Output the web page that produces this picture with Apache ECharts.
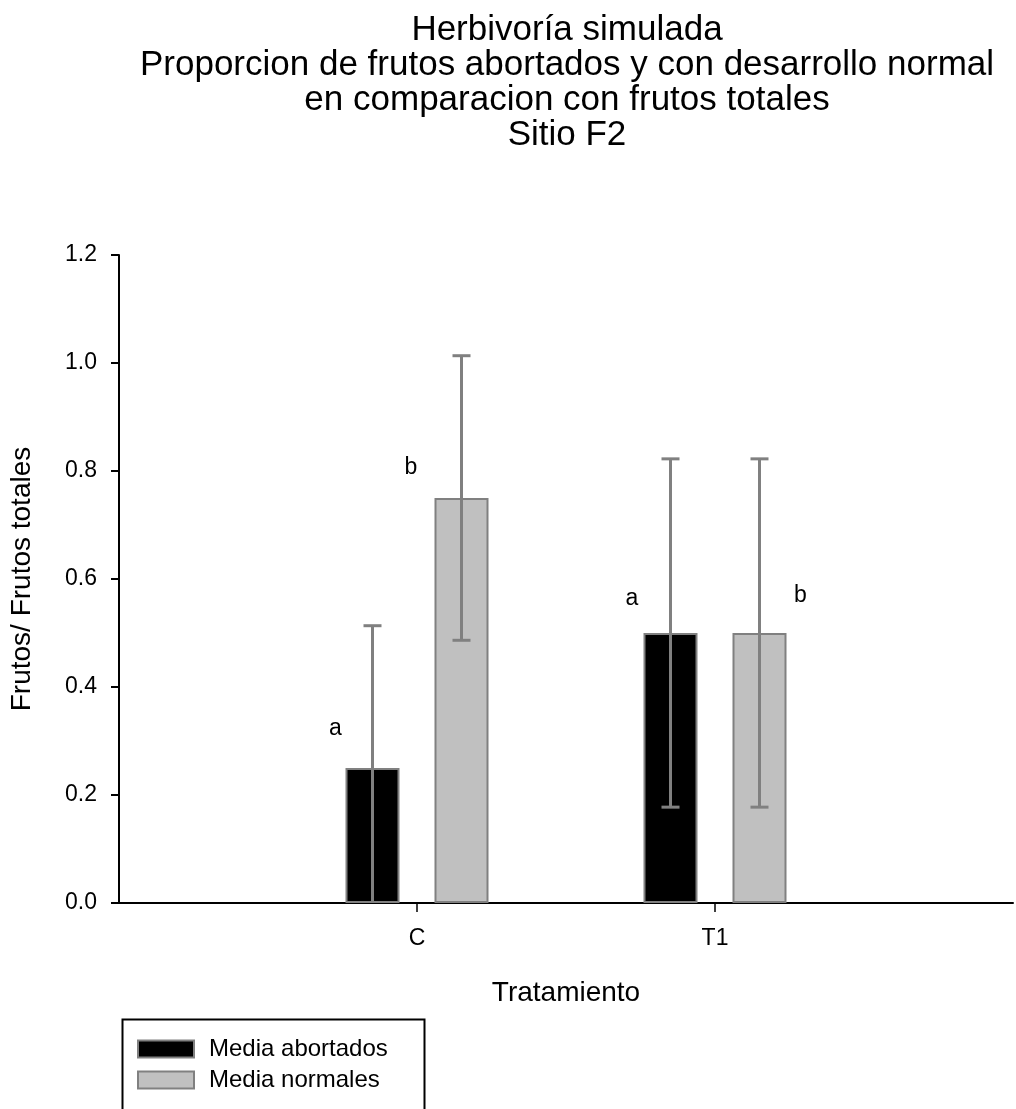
<!DOCTYPE html>
<html><head><meta charset="utf-8">
<script src="https://cdn.jsdelivr.net/npm/echarts@6/dist/echarts.min.js"></script>
<style>html,body{margin:0;padding:0;background:#fff}#c{width:1016px;height:1109px}</style>
</head><body><div id="c"></div>
<script>
const titleLines = ['Herbivoría simulada', 'Proporcion de frutos abortados y con desarrollo normal', 'en comparacion con frutos totales', 'Sitio F2'];
const categories = ['C', 'T1'];
const seriesNames = ['Media abortados', 'Media normales'];
const meanAbortados = [0.25, 0.50];
const errAbortados = [0.2635, 0.3225];
const meanNormales = [0.75, 0.50];
const errNormales = [0.2635, 0.3225];
const lettersAbortados = ['a', 'a'];
const letterYAbortados = [0.322, 0.563];
const lettersNormales = ['b', 'b'];
const letterYNormales = [0.807, 0.570];
const yTickLabels = ['0.0', '0.2', '0.4', '0.6', '0.8', '1.0', '1.2'];
const xTitle = 'Tratamiento';
const yTitle = 'Frutos/ Frutos totales';

const FONT = 'Arial, "Liberation Sans", sans-serif';
const BAR_W = 54, GAP = 35, HALF = (BAR_W + GAP) / 2;
const letterDx = { abort: [-81.5, -83], normal: [-6, 85.5] };

const axisCats = [''].concat(categories, ['']);
const pad = arr => ['-'].concat(arr, ['-']);

function errSeries(means, errs, dx) {
  return {
    type: 'custom', clip: true, z: 5, silent: true,
    data: means.map((m, k) => [categories[k], m, errs[k]]),
    renderItem(params, api) {
      const c = api.value(0), m = api.value(1), e = api.value(2);
      const t = api.coord([c, m + e]);
      const b = api.coord([c, m - e]);
      const x = t[0] + dx;
      const st = { stroke: '#808080', lineWidth: 3 };
      return { type: 'group', children: [
        { type: 'line', shape: { x1: x, y1: t[1], x2: x, y2: b[1] }, style: st },
        { type: 'line', shape: { x1: x - 9, y1: t[1], x2: x + 9, y2: t[1] }, style: st },
        { type: 'line', shape: { x1: x - 9, y1: b[1], x2: x + 9, y2: b[1] }, style: st }
      ]};
    }
  };
}
function letterSeries(letters, ys, dxs) {
  return {
    type: 'custom', z: 6, silent: true,
    data: letters.map((l, k) => [categories[k], ys[k], k]),
    renderItem(params, api) {
      const p = api.coord([api.value(0), api.value(1)]);
      const k = api.value(2);
      return { type: 'text', x: p[0] + dxs[k], y: p[1],
        style: { text: letters[k], fill: '#000', font: '23px ' + FONT, align: 'center', verticalAlign: 'middle' } };
    }
  };
}

const chart = echarts.init(document.getElementById('c'), null, { renderer: 'canvas' });
chart.setOption({
  backgroundColor: '#fff',
  animation: false,
  title: {
    text: titleLines.join('\n'), left: 567, top: 13, padding: 0, textAlign: 'center',
    textStyle: { fontFamily: FONT, fontSize: 35, lineHeight: 35, fontWeight: 'normal', color: '#000' }
  },
  graphic: [{
    type: 'rect', left: 120, top: 1017, silent: true,
    shape: { x: 0, y: 0, width: 302, height: 200 },
    style: { fill: 'none', stroke: '#000', lineWidth: 2 }
  }],
  legend: {
    orient: 'vertical', left: 137, top: 1036, padding: 0, height: 70,
    itemWidth: 56, itemHeight: 17, itemGap: 5,
    icon: 'rect', data: seriesNames,
    textStyle: { fontFamily: FONT, fontSize: 24, lineHeight: 26, color: '#000', padding: [0, 0, 0, 10] }
  },
  grid: { left: 119, right: 1, top: 255, bottom: 206, containLabel: false },
  xAxis: {
    type: 'category', data: axisCats, boundaryGap: false,
    name: xTitle, nameLocation: 'middle', nameGap: 76,
    nameTextStyle: { fontFamily: FONT, fontSize: 28, color: '#000' },
    axisLine: { lineStyle: { color: '#000', width: 2 } },
    axisTick: { show: true, length: 9, interval: (i) => i === 1 || i === 2, lineStyle: { color: '#000', width: 1.5 } },
    axisLabel: { interval: 0, margin: 24, fontFamily: FONT, fontSize: 23, color: '#000' },
    splitLine: { show: false }
  },
  yAxis: {
    type: 'value', min: 0, max: 1.2, interval: 0.2,
    name: yTitle, nameLocation: 'middle', nameGap: 83, nameRotate: 90,
    nameTextStyle: { fontFamily: FONT, fontSize: 28, color: '#000' },
    axisLine: { show: true, lineStyle: { color: '#000', width: 2 } },
    axisTick: { show: true, inside: false, length: 8, lineStyle: { color: '#000', width: 2 } },
    axisLabel: { margin: 22, fontFamily: FONT, fontSize: 23, color: '#000',
      formatter: (v) => yTickLabels[Math.round(v / 0.2)] },
    splitLine: { show: false }
  },
  series: [
    { name: seriesNames[0], type: 'bar', data: pad(meanAbortados), barWidth: BAR_W, barGap: (GAP / BAR_W * 100) + '%',
      itemStyle: { color: '#000', borderColor: '#808080', borderWidth: 2 } },
    { name: seriesNames[1], type: 'bar', data: pad(meanNormales), barWidth: BAR_W,
      itemStyle: { color: '#c0c0c0', borderColor: '#808080', borderWidth: 2 } },
    errSeries(meanAbortados, errAbortados, -HALF),
    errSeries(meanNormales, errNormales, HALF),
    letterSeries(lettersAbortados, letterYAbortados, letterDx.abort),
    letterSeries(lettersNormales, letterYNormales, letterDx.normal)
  ]
});
</script></body></html>
